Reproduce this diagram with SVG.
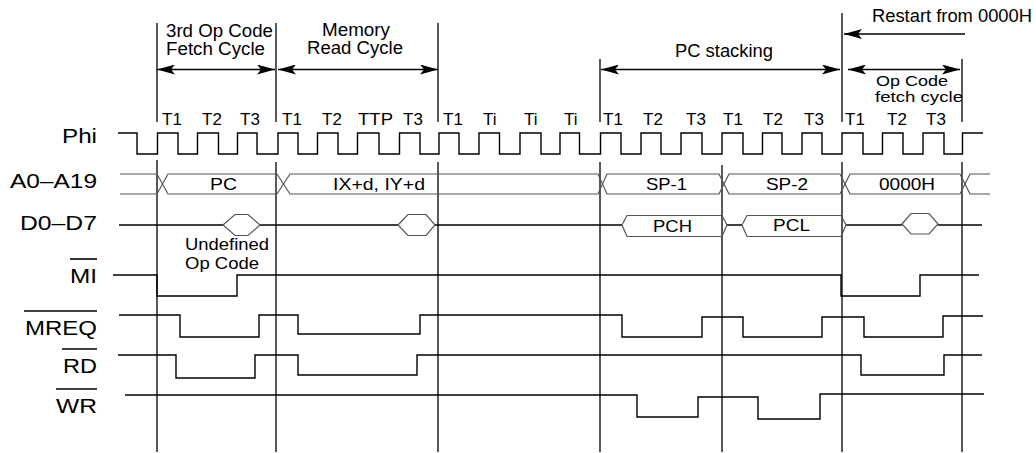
<svg xmlns="http://www.w3.org/2000/svg" width="1036" height="453" viewBox="0 0 1036 453">
<style>
text{font-family:"Liberation Sans",Arial,sans-serif;fill:#000}
.lbl{font-size:21px}
.top{font-size:17.5px}
.sm{font-size:14.5px}
.t{font-size:17px}
.bl{font-size:17px}
.ln{fill:none;stroke:#000;stroke-width:1.3}
.bus{fill:none;stroke:#555;stroke-width:1.2}
.sig{fill:none;stroke:#000;stroke-width:1.4}
.ov{stroke:#000;stroke-width:1.6}
</style>
<defs>
<marker id="ah" markerUnits="userSpaceOnUse" viewBox="0 0 18 10" refX="18" refY="5" markerWidth="18" markerHeight="10" orient="auto-start-reverse">
<path d="M0,0 L18,5 L0,10 L4,5 z" fill="#000"/>
</marker>
</defs>
<rect width="1036" height="453" fill="#fff"/>

<g id="gridlines" class="ln">
<path d="M157,23 V122 M157,160 V452"/>
<path d="M276,23 V122 M276,162 V452"/>
<path d="M438,23 V122 M438,162 V452"/>
<path d="M600,59 V122 M600,162 V452"/>
<path d="M722,165 V452"/>
<path d="M842,13 V122 M842,162 V452"/>
<path d="M962,59 V122 M962,162 V452"/>
</g>

<g id="connectors" class="ln">
<line x1="157" y1="69.5" x2="275" y2="69.5" marker-start="url(#ah)" marker-end="url(#ah)"/>
<line x1="278" y1="69.5" x2="438" y2="69.5" marker-start="url(#ah)" marker-end="url(#ah)"/>
<line x1="601" y1="69.5" x2="840" y2="69.5" marker-start="url(#ah)" marker-end="url(#ah)"/>
<line x1="965" y1="34" x2="844" y2="34" marker-end="url(#ah)"/>
<line x1="848" y1="69.5" x2="960" y2="69.5" marker-start="url(#ah)" marker-end="url(#ah)"/>
</g>

<g id="cycle-labels">
<text class="top" x="166" y="37" textLength="107" lengthAdjust="spacingAndGlyphs">3rd Op Code</text>
<text class="top" x="166" y="55" textLength="99" lengthAdjust="spacingAndGlyphs">Fetch Cycle</text>
<text class="top" x="322" y="36" textLength="68" lengthAdjust="spacingAndGlyphs">Memory</text>
<text class="top" x="307" y="54" textLength="96" lengthAdjust="spacingAndGlyphs">Read Cycle</text>
<text class="top" x="675" y="57" textLength="98" lengthAdjust="spacingAndGlyphs">PC stacking</text>
<text class="top" x="872" y="22" textLength="160" lengthAdjust="spacingAndGlyphs">Restart from 0000H</text>
<text class="sm" x="876" y="86" textLength="72" lengthAdjust="spacingAndGlyphs">Op Code</text>
<text class="sm" x="875" y="102" textLength="88" lengthAdjust="spacingAndGlyphs">fetch cycle</text>
</g>

<g id="t-states" class="t">
<text x="162" y="125">T1</text>
<text x="202" y="125">T2</text>
<text x="240" y="125">T3</text>
<text x="282" y="125">T1</text>
<text x="322" y="125">T2</text>
<text x="358" y="125" textLength="35" lengthAdjust="spacingAndGlyphs">TTP</text>
<text x="403" y="125">T3</text>
<text x="443" y="125">T1</text>
<text x="483" y="125">Ti</text>
<text x="524" y="125">Ti</text>
<text x="564" y="125">Ti</text>
<text x="603" y="125">T1</text>
<text x="643" y="125">T2</text>
<text x="686" y="125">T3</text>
<text x="723" y="125">T1</text>
<text x="763" y="125">T2</text>
<text x="804" y="125">T3</text>
<text x="845" y="125">T1</text>
<text x="887" y="125">T2</text>
<text x="926" y="125">T3</text>
</g>

<g id="phi">
<text class="lbl" x="97" y="143" text-anchor="end" textLength="35" lengthAdjust="spacingAndGlyphs">Phi</text>
<path class="sig" d="M118,133 H137 V154 H157.5 V133 H178 V154 H197.5 V133 H218.5 V154 H237.5 V133 H257 V154 H278 V133 H298 V154 H317.5 V133 H338 V154 H357.5 V133 H379 V154 H399.5 V133 H420 V154 H439 V133 H459 V154 H479 V133 H499.5 V154 H520 V133 H541 V154 H560 V133 H579.5 V154 H600.5 V133 H621 V154 H641 V133 H661 V154 H681 V133 H702 V154 H722 V133 H743 V154 H762.5 V133 H782 V154 H802 V133 H822 V154 H842 V133 H863 V154 H882.5 V133 H903 V154 H923 V133 H944 V154 H962.5 V133 H983"/>
</g>

<g id="address-bus">
<text class="lbl" x="97" y="188" text-anchor="end" textLength="87" lengthAdjust="spacingAndGlyphs">A0–A19</text>
<path class="bus" d="M120,174 H157 L168,194 H277 L290,174 H598 L607,194 H719 L729,174 H840 L850,194 H960 L970,174 H990"/>
<path class="bus" d="M120,194 H157 L168,174 H277 L290,194 H598 L607,174 H719 L729,194 H840 L850,174 H960 L970,194 H990"/>
<text class="bl" x="210" y="190" textLength="27" lengthAdjust="spacingAndGlyphs">PC</text>
<text class="bl" x="333" y="190" textLength="92" lengthAdjust="spacingAndGlyphs">IX+d, IY+d</text>
<text class="bl" x="646" y="190" textLength="41" lengthAdjust="spacingAndGlyphs">SP-1</text>
<text class="bl" x="766" y="190" textLength="42" lengthAdjust="spacingAndGlyphs">SP-2</text>
<text class="bl" x="879" y="190" textLength="56" lengthAdjust="spacingAndGlyphs">0000H</text>
</g>

<g id="data-bus">
<text class="lbl" x="97" y="230" text-anchor="end" textLength="77" lengthAdjust="spacingAndGlyphs">D0–D7</text>
<path class="sig" d="M119,225 H223 M260,225 H398 M435,225 H622 M727,225 H742 M846,225 H902 M938,225 H982"/>
<polygon class="bus" points="223,225 235,214.5 248,214.5 260,225 248,235.5 235,235.5"/>
<polygon class="bus" points="398,225 408,214.5 426,214.5 435,225 426,235.5 408,235.5"/>
<polygon class="bus" points="622,225 627,215.5 722,215.5 727,225 722,236.5 627,236.5"/>
<polygon class="bus" points="742,225 747,215.5 841,215.5 846,225 841,236.5 747,236.5"/>
<polygon class="bus" points="902,224 911,213.5 929,213.5 938,224 929,234 911,234"/>
<text class="bl" x="653" y="232" textLength="39" lengthAdjust="spacingAndGlyphs">PCH</text>
<text class="bl" x="773" y="231" textLength="37" lengthAdjust="spacingAndGlyphs">PCL</text>
<text class="bl" x="185" y="250" textLength="84" lengthAdjust="spacingAndGlyphs">Undefined</text>
<text class="bl" x="185" y="269" textLength="74" lengthAdjust="spacingAndGlyphs">Op Code</text>
</g>

<g id="mi">
<text class="lbl" x="97" y="283" text-anchor="end" textLength="27" lengthAdjust="spacingAndGlyphs">MI</text>
<line class="ov" x1="70" y1="259" x2="97" y2="259"/>
<path class="sig" d="M113,275 H157 V296 H237 V275 H841 V296 H920 V275 H979"/>
</g>

<g id="mreq">
<text class="lbl" x="97" y="335" text-anchor="end" textLength="72" lengthAdjust="spacingAndGlyphs">MREQ</text>
<line class="ov" x1="24" y1="311" x2="97" y2="311"/>
<path class="sig" d="M119,315 H180 V337 H259 V315 H298 V334 H420 V315 H622 V337 H702 V317 H743 V337 H822 V317 H864 V337 H943 V316 H983"/>
</g>

<g id="rd">
<text class="lbl" x="97" y="373" text-anchor="end" textLength="34" lengthAdjust="spacingAndGlyphs">RD</text>
<line class="ov" x1="62" y1="349" x2="97" y2="349"/>
<path class="sig" d="M118,355 H176 V378 H255 V355 H298 V375 H417 V355 H861 V375 H944 V355 H982"/>
</g>

<g id="wr">
<text class="lbl" x="97" y="413" text-anchor="end" textLength="41" lengthAdjust="spacingAndGlyphs">WR</text>
<line class="ov" x1="56" y1="389" x2="97" y2="389"/>
<path class="sig" d="M125,395 H637 V417 H698 V397 H758 V419 H820 V394 H984"/>
</g>
</svg>
